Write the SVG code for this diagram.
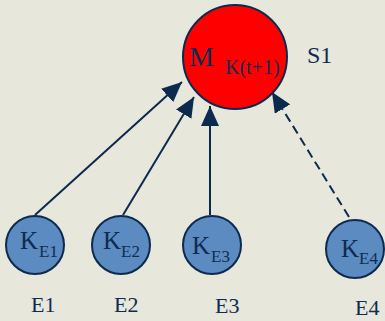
<svg xmlns="http://www.w3.org/2000/svg" width="385" height="321" viewBox="0 0 385 321">
<style>
.bg{fill:#e7e7db}
.k{fill:#5b8bc1;stroke:#0c2a4e;stroke-width:2}
.m{fill:#ff0000;stroke:#0c2a4e;stroke-width:2}
.t{font-family:'Liberation Serif','Times New Roman',serif;fill:#0f2b52}
.c{stroke:#0c2a4e;stroke-width:2;fill:none;marker-end:url(#ah)}
.d{stroke-dasharray:9 5}
</style>
<defs>
<marker id="ah" viewBox="0 0 20 18" refX="20" refY="9" markerWidth="20" markerHeight="18" markerUnits="userSpaceOnUse" orient="auto">
<path d="M0,0 L20,9 L0,18 Z" fill="#0c2a4e"/>
</marker>
</defs>
<rect class="bg" x="0" y="0" width="385" height="321"/>
<g id="connectors">
<line class="c" x1="35" y1="215" x2="182" y2="82"/>
<line class="c" x1="123" y1="215" x2="194" y2="97"/>
<line class="c" x1="210" y1="215" x2="210" y2="106"/>
<line class="c d" x1="349" y1="217" x2="272" y2="92"/>
</g>
<g id="S1" class="t">
<circle class="m" cx="235" cy="57" r="52"/>
<text x="189" y="66" font-size="28">M</text>
<text x="225" y="74" font-size="20">K(t+1)</text>
<text x="307" y="63" font-size="24">S1</text>
</g>
<g id="E1" class="t">
<circle class="k" cx="35" cy="245" r="29"/>
<text x="20" y="249" font-size="25">K</text>
<text x="39" y="257" font-size="17">E1</text>
<text x="31" y="312" font-size="22">E1</text>
</g>
<g id="E2" class="t">
<circle class="k" cx="121" cy="245" r="29"/>
<text x="103" y="249" font-size="25">K</text>
<text x="121" y="257" font-size="17">E2</text>
<text x="114" y="312" font-size="22">E2</text>
</g>
<g id="E3" class="t">
<circle class="k" cx="212" cy="245" r="29"/>
<text x="192" y="254" font-size="25">K</text>
<text x="211" y="262" font-size="17">E3</text>
<text x="215" y="313" font-size="22">E3</text>
</g>
<g id="E4" class="t">
<circle class="k" cx="355" cy="249" r="29"/>
<text x="341" y="257" font-size="25">K</text>
<text x="359" y="264" font-size="17">E4</text>
<text x="355" y="315" font-size="22">E4</text>
</g>
</svg>
